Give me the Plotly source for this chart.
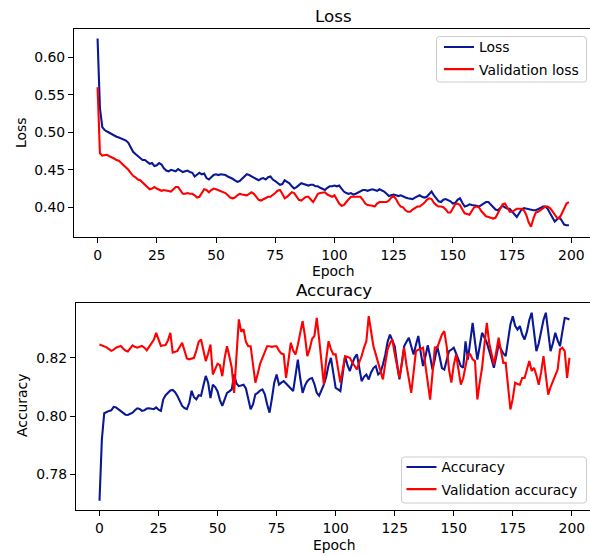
import plotly.graph_objects as go

# ---- training history (200 epochs) ----
epochs = list(range(200))

loss = [
    0.625, 0.532, 0.507, 0.503, 0.501, 0.499, 0.497, 0.496, 0.494, 0.493,
    0.492, 0.491, 0.489, 0.486, 0.479, 0.474, 0.471, 0.468, 0.466, 0.463,
    0.463, 0.461, 0.458, 0.459, 0.455, 0.456, 0.459, 0.457, 0.452, 0.449,
    0.448, 0.450, 0.449, 0.448, 0.451, 0.449, 0.447, 0.448, 0.449, 0.447,
    0.446, 0.441, 0.443, 0.446, 0.444, 0.445, 0.439, 0.437, 0.440, 0.443,
    0.444, 0.443, 0.444, 0.444, 0.443, 0.441, 0.440, 0.438, 0.436, 0.434,
    0.435, 0.438, 0.441, 0.444, 0.443, 0.441, 0.439, 0.437, 0.436, 0.438,
    0.439, 0.437, 0.440, 0.441, 0.437, 0.435, 0.433, 0.430, 0.431, 0.436,
    0.434, 0.432, 0.428, 0.425, 0.427, 0.430, 0.432, 0.431, 0.430, 0.429,
    0.430, 0.430, 0.428, 0.428, 0.426, 0.425, 0.423, 0.426, 0.428, 0.428,
    0.429, 0.428, 0.429, 0.425, 0.421, 0.419, 0.418, 0.419, 0.417, 0.418,
    0.420, 0.422, 0.423, 0.423, 0.422, 0.423, 0.424, 0.423, 0.422, 0.424,
    0.423, 0.421, 0.418, 0.415, 0.416, 0.417, 0.416, 0.415, 0.416, 0.414,
    0.413, 0.412, 0.411, 0.411, 0.413, 0.415, 0.416, 0.414, 0.413, 0.414,
    0.418, 0.421, 0.416, 0.412, 0.408, 0.407, 0.410, 0.411, 0.410, 0.408,
    0.405, 0.406, 0.410, 0.412, 0.406, 0.401, 0.402, 0.404, 0.403, 0.403,
    0.402, 0.401, 0.403, 0.406, 0.407, 0.407, 0.404, 0.400, 0.397, 0.396,
    0.399, 0.402, 0.400, 0.398, 0.398, 0.394, 0.390, 0.387, 0.392, 0.397,
    0.399, 0.398, 0.397, 0.396, 0.396, 0.396, 0.397, 0.399, 0.401, 0.401,
    0.398, 0.392, 0.386, 0.381, 0.384, 0.387, 0.382, 0.377, 0.376, 0.376,
]

val_loss = [
    0.560, 0.472, 0.469, 0.469, 0.470, 0.468, 0.467, 0.465, 0.463, 0.462,
    0.459, 0.456, 0.454, 0.450, 0.446, 0.442, 0.440, 0.437, 0.436, 0.433,
    0.431, 0.428, 0.424, 0.425, 0.427, 0.425, 0.423, 0.422, 0.423, 0.422,
    0.422, 0.421, 0.424, 0.427, 0.427, 0.423, 0.418, 0.418, 0.419, 0.418,
    0.418, 0.416, 0.413, 0.414, 0.419, 0.424, 0.423, 0.420, 0.423, 0.425,
    0.424, 0.423, 0.421, 0.421, 0.419, 0.416, 0.413, 0.412, 0.413, 0.416,
    0.418, 0.417, 0.416, 0.416, 0.418, 0.420, 0.418, 0.414, 0.410, 0.409,
    0.411, 0.413, 0.414, 0.414, 0.416, 0.419, 0.422, 0.423, 0.418, 0.412,
    0.414, 0.417, 0.420, 0.419, 0.414, 0.410, 0.409, 0.412, 0.414, 0.414,
    0.410, 0.407, 0.412, 0.418, 0.419, 0.420, 0.420, 0.417, 0.415, 0.414,
    0.416, 0.411, 0.405, 0.402, 0.403, 0.407, 0.411, 0.414, 0.414, 0.414,
    0.413, 0.414, 0.410, 0.405, 0.403, 0.403, 0.402, 0.401, 0.405, 0.407,
    0.407, 0.406, 0.407, 0.409, 0.413, 0.415, 0.411, 0.405, 0.401, 0.400,
    0.396, 0.394, 0.394, 0.397, 0.399, 0.401, 0.401, 0.403, 0.406, 0.410,
    0.412, 0.411, 0.406, 0.403, 0.401, 0.401, 0.400, 0.397, 0.393, 0.393,
    0.398, 0.404, 0.405, 0.403, 0.397, 0.392, 0.391, 0.390, 0.395, 0.400,
    0.401, 0.400, 0.395, 0.391, 0.388, 0.387, 0.386, 0.385, 0.386, 0.392,
    0.399, 0.404, 0.405, 0.399, 0.394, 0.394, 0.396, 0.398, 0.398, 0.398,
    0.396, 0.390, 0.380, 0.374, 0.385, 0.393, 0.394, 0.396, 0.399, 0.401,
    0.401, 0.399, 0.395, 0.390, 0.386, 0.385, 0.392, 0.398, 0.405, 0.407,
]

accuracy = [
    0.7710, 0.7920, 0.8010, 0.8015, 0.8018, 0.8020, 0.8032, 0.8030, 0.8024, 0.8020,
    0.8012, 0.8005, 0.8004, 0.8008, 0.8012, 0.8020, 0.8027, 0.8025, 0.8018, 0.8020,
    0.8026, 0.8027, 0.8025, 0.8024, 0.8030, 0.8022, 0.8018, 0.8058, 0.8072, 0.8080,
    0.8088, 0.8090, 0.8082, 0.8069, 0.8052, 0.8035, 0.8028, 0.8024, 0.8045, 0.8087,
    0.8065, 0.8058, 0.8072, 0.8070, 0.8105, 0.8138, 0.8115, 0.8062, 0.8108, 0.8100,
    0.8085, 0.8055, 0.8035, 0.8060, 0.8080, 0.8085, 0.8092, 0.8143, 0.8112, 0.8103,
    0.8105, 0.8108, 0.8095, 0.8060, 0.8024, 0.8040, 0.8075, 0.8080, 0.8088, 0.8092,
    0.8075, 0.8040, 0.8012, 0.8060, 0.8115, 0.8143, 0.8108, 0.8115, 0.8120, 0.8112,
    0.8105, 0.8095, 0.8086, 0.8135, 0.8194, 0.8130, 0.8080, 0.8105, 0.8120, 0.8128,
    0.8131, 0.8110, 0.8080, 0.8070, 0.8090, 0.8108, 0.8135, 0.8175, 0.8200, 0.8145,
    0.8097, 0.8092, 0.8086, 0.8145, 0.8206, 0.8175, 0.8155, 0.8180, 0.8200, 0.8212,
    0.8160, 0.8120, 0.8135, 0.8143, 0.8126, 0.8150, 0.8165, 0.8172, 0.8143, 0.8150,
    0.8177, 0.8210, 0.8255, 0.8280, 0.8260, 0.8240, 0.8180, 0.8126, 0.8180, 0.8240,
    0.8255, 0.8269, 0.8240, 0.8212, 0.8245, 0.8275, 0.8220, 0.8172, 0.8205, 0.8243,
    0.8205, 0.8160, 0.8195, 0.8240, 0.8205, 0.8165, 0.8160, 0.8195, 0.8223, 0.8228,
    0.8235, 0.8215, 0.8190, 0.8172, 0.8166, 0.8257, 0.8194, 0.8250, 0.8320, 0.8255,
    0.8194, 0.8240, 0.8286, 0.8270, 0.8252, 0.8225, 0.8190, 0.8166, 0.8205, 0.8246,
    0.8230, 0.8215, 0.8206, 0.8270, 0.8315, 0.8343, 0.8310, 0.8297, 0.8309, 0.8280,
    0.8263, 0.8290, 0.8330, 0.8355, 0.8290, 0.8223, 0.8250, 0.8290, 0.8330, 0.8355,
    0.8290, 0.8223, 0.8250, 0.8286, 0.8260, 0.8240, 0.8290, 0.8337, 0.8335, 0.8332,
]

val_accuracy = [
    0.8246, 0.8243, 0.8241, 0.8236, 0.8230, 0.8224, 0.8228, 0.8235, 0.8238, 0.8241,
    0.8232, 0.8225, 0.8222, 0.8233, 0.8243, 0.8238, 0.8235, 0.8238, 0.8241, 0.8235,
    0.8226, 0.8238, 0.8252, 0.8262, 0.8286, 0.8265, 0.8241, 0.8243, 0.8244, 0.8260,
    0.8286, 0.8218, 0.8220, 0.8224, 0.8238, 0.8252, 0.8225, 0.8198, 0.8195, 0.8198,
    0.8200, 0.8225, 0.8255, 0.8263, 0.8225, 0.8189, 0.8215, 0.8246, 0.8143, 0.8160,
    0.8180, 0.8175, 0.8137, 0.8200, 0.8240, 0.8205, 0.8166, 0.8080, 0.8200, 0.8332,
    0.8290, 0.8298, 0.8255, 0.8240, 0.8240, 0.8185, 0.8115, 0.8145, 0.8180, 0.8200,
    0.8222, 0.8240, 0.8240, 0.8238, 0.8240, 0.8240, 0.8225, 0.8215, 0.8212, 0.8131,
    0.8190, 0.8252, 0.8225, 0.8212, 0.8245, 0.8290, 0.8326, 0.8275, 0.8206, 0.8230,
    0.8265, 0.8275, 0.8337, 0.8265, 0.8180, 0.8108, 0.8195, 0.8257, 0.8230, 0.8212,
    0.8212, 0.8165, 0.8115, 0.8160, 0.8206, 0.8203, 0.8200, 0.8185, 0.8172, 0.8160,
    0.8185, 0.8206, 0.8235, 0.8257, 0.8343, 0.8290, 0.8240, 0.8212, 0.8185, 0.8150,
    0.8126, 0.8180, 0.8229, 0.8250, 0.8263, 0.8215, 0.8165, 0.8131, 0.8180, 0.8235,
    0.8175, 0.8120, 0.8080, 0.8150, 0.8223, 0.8228, 0.8232, 0.8235, 0.8175, 0.8110,
    0.8057, 0.8145, 0.8235, 0.8235, 0.8255, 0.8280, 0.8292, 0.8240, 0.8160, 0.8115,
    0.8175, 0.8212, 0.8160, 0.8108, 0.8130, 0.8175, 0.8212, 0.8212, 0.8195, 0.8189,
    0.8057, 0.8115, 0.8166, 0.8245, 0.8320, 0.8252, 0.8210, 0.8177, 0.8220, 0.8269,
    0.8225, 0.8183, 0.8183, 0.8100, 0.8023, 0.8060, 0.8115, 0.8110, 0.8108, 0.8131,
    0.8131, 0.8160, 0.8189, 0.8155, 0.8166, 0.8140, 0.8108, 0.8150, 0.8206, 0.8140,
    0.8074, 0.8100, 0.8120, 0.8145, 0.8160, 0.8229, 0.8235, 0.8223, 0.8131, 0.8200,
]

epoch_ticks = [0, 25, 50, 75, 100, 125, 150, 175, 200]
loss_ticks = [0.40, 0.45, 0.50, 0.55, 0.60]
acc_ticks = [0.78, 0.80, 0.82]

# ---- figure geometry (pixels) ----
W, H = 590, 556
FONT = "DejaVu Sans"
BLUE = "#0a1896"
RED = "#ff0000"


def px(x):
    return x / W


def py(y):
    return 1 - y / H


def rounded_box(x0, y0, x1, y1, r=3):
    """SVG path (paper coords) for a rectangle with rounded corners, given in pixels."""
    pts = [
        ("M", (x0 + r, y0)), ("L", (x1 - r, y0)), ("Q", (x1, y0), (x1, y0 + r)),
        ("L", (x1, y1 - r)), ("Q", (x1, y1), (x1 - r, y1)),
        ("L", (x0 + r, y1)), ("Q", (x0, y1), (x0, y1 - r)),
        ("L", (x0, y0 + r)), ("Q", (x0, y0), (x0 + r, y0)),
    ]
    parts = []
    for cmd, *coords in pts:
        parts.append(cmd + " ".join(f"{px(cx):.5f},{py(cy):.5f}" for cx, cy in coords))
    return " ".join(parts) + " Z"


fig = go.Figure()

fig.add_trace(go.Scatter(x=epochs, y=loss, mode="lines", name="Loss",
                         line=dict(color=BLUE, width=2.1),
                         xaxis="x", yaxis="y", legend="legend", legendgroup="a"))
fig.add_trace(go.Scatter(x=epochs, y=val_loss, mode="lines", name="Validation loss",
                         line=dict(color=RED, width=2.1),
                         xaxis="x", yaxis="y", legend="legend", legendgroup="b"))
fig.add_trace(go.Scatter(x=epochs, y=accuracy, mode="lines", name="Accuracy",
                         line=dict(color=BLUE, width=2.1),
                         xaxis="x2", yaxis="y2", legend="legend2", legendgroup="c"))
fig.add_trace(go.Scatter(x=epochs, y=val_accuracy, mode="lines", name="Validation accuracy",
                         line=dict(color=RED, width=2.1),
                         xaxis="x2", yaxis="y2", legend="legend2", legendgroup="d"))

tick_font = dict(family=FONT, size=13.9, color="black")
axis_common = dict(showgrid=False, zeroline=False, showline=True, linecolor="black",
                   linewidth=1.1, ticks="outside", ticklen=5, tickwidth=1.1,
                   tickcolor="black", tickfont=tick_font)

# top panel spans pixels x 74..(592 off-canvas), y 29..237
fig.update_layout(
    xaxis=dict(domain=[px(74), 1], range=[-9.95, 207.9], anchor="y",
               tickvals=epoch_ticks, mirror=True, **axis_common),
    yaxis=dict(domain=[py(237), py(29)], range=[0.3604, 0.6377], anchor="x",
               tickvals=loss_ticks, tickformat=".2f", **axis_common),
    xaxis2=dict(domain=[px(76), 1], range=[-9.95, 207.7], anchor="y2",
                tickvals=epoch_ticks, mirror=True, **axis_common),
    yaxis2=dict(domain=[py(510), py(302.5)], range=[0.7678, 0.8390], anchor="x2",
                tickvals=acc_ticks, tickformat=".2f", **axis_common),
)

# legend frames are drawn as shapes, entries by borderless legends on top
legend_common = dict(xanchor="left", yanchor="top", bgcolor="rgba(0,0,0,0)",
                     borderwidth=0,
                     font=dict(family=FONT, size=13.9, color="black"),
                     tracegroupgap=1)
fig.update_layout(
    legend=dict(x=px(439), y=py(31.5), **legend_common),
    legend2=dict(x=px(401.5), y=py(451.5), **legend_common),
)

shapes = []
for box in [(436.5, 36.5, 586.5, 82), (401.5, 457, 586.5, 503)]:
    shapes.append(dict(type="path", path=rounded_box(*box), xref="paper", yref="paper",
                       line=dict(color="#cccccc", width=1),
                       fillcolor="rgba(255,255,255,0.8)", layer="above"))

# titles and axis labels
ann = []
ann.append(dict(text="Loss", x=px(333), y=py(16), font=dict(size=16.7)))
ann.append(dict(text="Accuracy", x=px(334), y=py(290), font=dict(size=16.7)))
ann.append(dict(text="Epoch", x=px(333), y=py(271), font=dict(size=13.9)))
ann.append(dict(text="Epoch", x=px(334), y=py(545), font=dict(size=13.9)))
ann.append(dict(text="Loss", x=px(21), y=py(133), font=dict(size=13.9), textangle=-90))
ann.append(dict(text="Accuracy", x=px(22), y=py(406), font=dict(size=13.9), textangle=-90))
for a in ann:
    a.update(xref="paper", yref="paper", showarrow=False,
             xanchor="center", yanchor="middle")
    a["font"].update(family=FONT, color="black")

fig.update_layout(
    annotations=ann,
    shapes=shapes,
    width=W, height=H,
    margin=dict(l=0, r=0, t=0, b=0),
    paper_bgcolor="white", plot_bgcolor="white",
    font=dict(family=FONT, color="black"),
    showlegend=True,
)

fig.write_html("out.html")
